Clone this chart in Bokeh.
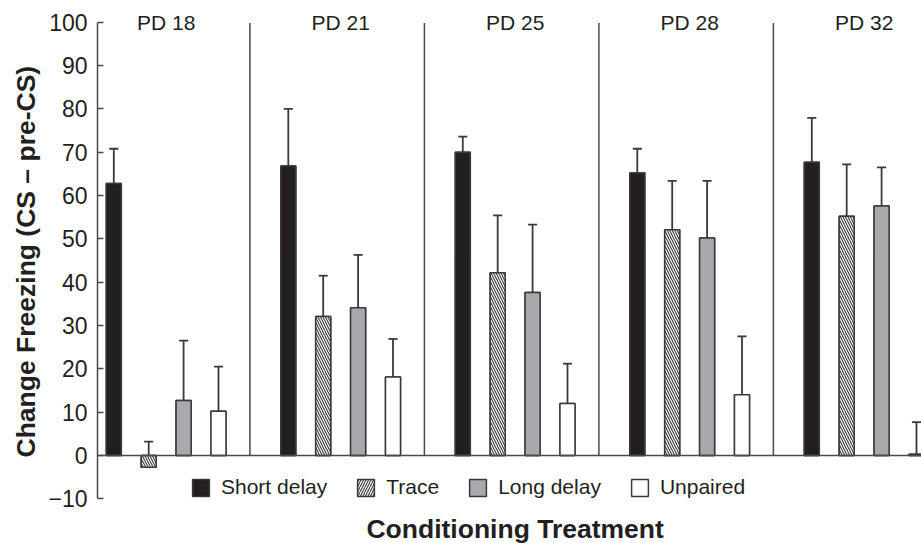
from bokeh.plotting import figure
from bokeh.models import (ColumnDataSource, FixedTicker, Span, Legend, LegendItem,
                          Range1d, Title)
from bokeh.core.properties import value
from bokeh.embed import file_html
from bokeh.resources import INLINE

# ---- data ----
groups = ["PD 18", "PD 21", "PD 25", "PD 28", "PD 32"]
series = ["Short delay", "Trace", "Long delay", "Unpaired"]
short_delay = [62.8, 66.8, 70.0, 65.2, 67.7]
short_delay_err = [8.0, 13.2, 3.6, 5.6, 10.2]
trace = [-2.7, 32.1, 42.2, 52.1, 55.2]
trace_err = [5.9, 9.4, 13.2, 11.3, 12.0]
long_delay = [12.7, 34.1, 37.6, 50.2, 57.6]
long_delay_err = [13.8, 12.2, 15.7, 13.2, 8.9]
unpaired = [10.2, 18.1, 12.0, 14.0, 0.3]
unpaired_err = [10.3, 8.8, 9.2, 13.5, 7.4]
y_ticks = list(range(-10, 101, 10))
x_title = "Conditioning Treatment"
y_title = "Change Freezing (CS \u2013 pre-CS)"

values = [short_delay, trace, long_delay, unpaired]
errors = [short_delay_err, trace_err, long_delay_err, unpaired_err]

# ---- styles ----
TXT = "#231f20"
EDGE = "#3a3a3a"
AXIS = "#4a4a4a"
FONT = "Liberation Sans"
fills = ["#231f20", "white", "#a7a9ac", "white"]
hatches = [None, "\\", None, None]
legend_hatches = [None, "/", None, None]
bar_step = 0.2
bar_w = 0.086
cap_half = 0.026

p = figure(width=921, height=543, output_backend="svg", toolbar_location=None,
           x_axis_location=None,
           x_range=Range1d(0.1066, 4.8287), y_range=Range1d(-20.3, 102.7),
           min_border_left=97, min_border_right=0, min_border_top=10,
           min_border_bottom=0)
p.outline_line_color = None
p.xgrid.visible = False
p.ygrid.visible = False
p.background_fill_color = "white"
p.border_fill_color = "white"

# y axis
ya = p.yaxis[0]
ya.ticker = FixedTicker(ticks=y_ticks)
ya.bounds = (-10, 100)
ya.major_label_overrides = {t: (str(t).replace("-", "\u2212")) for t in y_ticks}
ya.axis_line_color = AXIS
ya.axis_line_width = 1.5
ya.major_tick_line_color = AXIS
ya.major_tick_line_width = 1.5
ya.major_tick_in = 6
ya.major_tick_out = 0
ya.minor_tick_line_color = None
ya.major_label_standoff = 10
ya.major_label_text_font = FONT
ya.major_label_text_font_size = "23px"
ya.major_label_text_color = TXT

# y title on the left, anchored at its start
p.add_layout(Title(text=y_title, align="left", offset=86,
                   vertical_align="bottom", standoff=10, text_font=FONT,
                   text_font_size="26.5px", text_font_style="bold",
                   text_color=TXT), "left")

# zero line
p.add_layout(Span(location=0, dimension="width", line_color=AXIS, line_width=1.5))

# separators between groups
sep_x = [i + 1 - 0.02 for i in range(len(groups) - 1)]
p.segment(x0=sep_x, y0=[0] * len(sep_x), x1=sep_x, y1=[99.8] * len(sep_x),
          line_color=AXIS, line_width=1.5)

centers = [i + 0.5 for i in range(len(groups))]
items = []
for k, (vals, errs) in enumerate(zip(values, errors)):
    xs = [c + (k - 1.5) * bar_step for c in centers]
    tops = [v + e for v, e in zip(vals, errs)]
    src = ColumnDataSource(dict(x=xs, top=vals, tip=tops,
                                x0=[x - cap_half for x in xs],
                                x1=[x + cap_half for x in xs]))
    p.segment(x0="x", y0="top", x1="x", y1="tip", source=src,
              line_color=EDGE, line_width=1.8)
    p.segment(x0="x0", y0="tip", x1="x1", y1="tip", source=src,
              line_color=EDGE, line_width=1.8)
    # legend swatch renderer (hidden under the real bars)
    lkw = {}
    if legend_hatches[k]:
        lkw = dict(hatch_pattern=legend_hatches[k], hatch_scale=5, hatch_weight=1.1,
                   hatch_color=EDGE)
    lr = p.vbar(x="x", top="top", bottom=0, width=bar_w, source=src,
                fill_color=fills[k], line_color=EDGE, line_width=1.5, **lkw)
    items.append(LegendItem(label=series[k], renderers=[lr]))
    kw = {}
    if hatches[k]:
        kw = dict(hatch_pattern=hatches[k], hatch_scale=5, hatch_weight=1.1,
                  hatch_color=EDGE)
    p.vbar(x="x", top="top", bottom=0, width=bar_w, source=src,
           fill_color=fills[k], line_color=EDGE, line_width=1.5, **kw)

# group labels
p.text(x=centers, y=[100] * len(groups), text=groups, text_align="center",
       text_baseline="middle", text_font=value(FONT), text_font_size="21px",
       text_color=TXT)

# x title
p.text(x=[sum(centers) / len(centers)], y=[-16.9], text=[x_title],
       text_align="center", text_baseline="middle", text_font=value(FONT),
       text_font_size="26.5px", text_font_style="bold", text_color=TXT)

legend = Legend(items=items, orientation="horizontal", location=(93, 44),
                glyph_width=21, glyph_height=21, label_standoff=10, spacing=28,
                padding=0, margin=0, border_line_color=None,
                background_fill_alpha=0, label_text_font=FONT,
                label_text_font_size="21px", label_text_color=TXT)
p.add_layout(legend, "center")

open("out.html", "w").write(file_html(p, INLINE))
